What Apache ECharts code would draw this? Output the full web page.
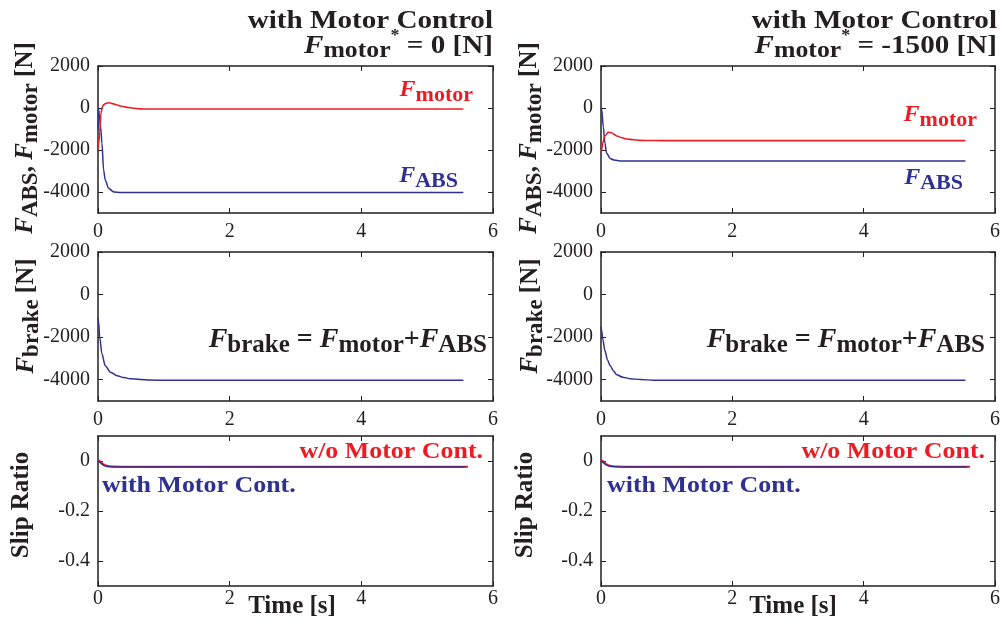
<!DOCTYPE html>
<html>
<head>
<meta charset="utf-8">
<script src="https://cdn.jsdelivr.net/npm/echarts@6/dist/echarts.min.js"></script>
<style>
  html, body { margin: 0; padding: 0; background: #fff; }
  #main { width: 1003px; height: 624px; }
</style>
</head>
<body>
<div id="main"></div>
<script>
// ---- data ----
// top row, F_motor* = 0
const tMotorL = [0, 0.01, 0.025, 0.045, 0.065, 0.085, 0.12, 0.17, 0.22, 0.29, 0.36, 0.44, 0.54, 0.64, 0.8, 1, 2, 3, 4, 5, 5.55];
const motorL  = [-2000, -1700, -1130, -250, 60, 150, 220, 250, 210, 140, 80, 30, -10, -40, -50, -50, -50, -50, -50, -50, -50];
const tAbsL   = [0, 0.008, 0.02, 0.04, 0.06, 0.085, 0.11, 0.16, 0.24, 0.35, 0.5, 1, 2, 3, 4, 5, 5.55];
const absL    = [-1000, -50, -300, -900, -1680, -2950, -3430, -3820, -4000, -4020, -4020, -4020, -4020, -4020, -4020, -4020, -4020];
// top row, F_motor* = -1500
const tMotorR = [0, 0.01, 0.025, 0.06, 0.11, 0.16, 0.24, 0.32, 0.39, 0.5, 0.59, 0.8, 1, 2, 3, 4, 5, 5.55];
const motorR  = [-2050, -2000, -1680, -1330, -1160, -1175, -1330, -1420, -1475, -1515, -1540, -1550, -1555, -1555, -1555, -1555, -1555, -1555];
const tAbsR   = [0, 0.01, 0.035, 0.06, 0.086, 0.14, 0.2, 0.29, 0.4, 1, 2, 3, 4, 5, 5.55];
const absR    = [0, -50, -890, -1680, -2160, -2400, -2480, -2520, -2520, -2520, -2520, -2520, -2520, -2520, -2520];
// middle row, F_brake
const tBrakeL = [0, 0.01, 0.025, 0.06, 0.11, 0.19, 0.29, 0.39, 0.49, 0.64, 0.79, 1, 2, 3, 4, 5, 5.55];
const brakeL  = [-1100, -1300, -2000, -2790, -3340, -3650, -3810, -3900, -3950, -3990, -4010, -4030, -4030, -4030, -4030, -4030, -4030];
const tBrakeR = [0, 0.01, 0.03, 0.06, 0.1, 0.14, 0.19, 0.24, 0.33, 0.44, 0.6, 0.8, 1, 2, 3, 4, 5, 5.55];
const brakeR  = [-1500, -1700, -2150, -2640, -3080, -3340, -3590, -3770, -3880, -3950, -3995, -4020, -4030, -4030, -4030, -4030, -4030, -4030];
// bottom row, slip ratio
const tSlipWo  = [0, 0.02, 0.05, 0.08, 0.12, 0.18, 0.25, 0.4, 1, 2, 3, 4, 5, 5.62];
const slipWo   = [0.003, 0.001, -0.006, -0.013, -0.018, -0.021, -0.022, -0.023, -0.023, -0.023, -0.023, -0.023, -0.023, -0.023];
const tSlipWithL = [0, 0.03, 0.06, 0.09, 0.12, 0.16, 0.22, 0.3, 0.5, 1, 2, 3, 4, 5, 5.58];
const slipWithL  = [0, -0.006, -0.013, -0.018, -0.021, -0.023, -0.024, -0.024, -0.024, -0.024, -0.024, -0.024, -0.024, -0.024, -0.024];
const tSlipWithR = [0, 0.03, 0.06, 0.09, 0.12, 0.16, 0.22, 0.3, 0.5, 1, 2, 3, 4, 5, 5.58];
const slipWithR  = [0, -0.006, -0.012, -0.017, -0.02, -0.022, -0.023, -0.024, -0.024, -0.024, -0.024, -0.024, -0.024, -0.024, -0.024];

const forceTicks = [-4000, -2000, 0, 2000];
const slipTicks = [-0.4, -0.2, 0];

// ---- styling ----
const FONT = "'Liberation Serif', 'Times New Roman', serif";
const INK = '#231f20';
const RED = '#ed1c24';
const BLUE = '#2e3192';

const colLeft = [98, 601];
const colWidth = [395, 396];
const rowTop = [66, 252, 436];
const rowHeight = [147, 149, 150];
const labelMargin = [9, 9, 3];

var chartDom = document.getElementById('main');
var myChart = echarts.init(chartDom);

function zip(ts, vs) {
  return ts.map(function (t, i) { return [t, vs[i]]; });
}
function plain(v) { return String(v); }

let grids = [], xAxes = [], yAxes = [];
for (let r = 0; r < 3; r++) {
  for (let c = 0; c < 2; c++) {
    const g = grids.length;
    grids.push({ left: colLeft[c], top: rowTop[r], width: colWidth[c], height: rowHeight[r] });
    const line = { show: true, onZero: false, lineStyle: { color: INK, width: 1.5 } };
    const tick = { show: true, inside: true, length: 5, lineStyle: { color: INK, width: 1 } };
    const xBase = { gridIndex: g, type: 'value', min: 0, max: 6, interval: 2, axisLine: line, splitLine: { show: false } };
    xAxes.push(Object.assign({}, xBase, {
      position: 'bottom',
      axisTick: tick,
      axisLabel: { margin: labelMargin[r], fontFamily: FONT, fontSize: 20, color: INK, formatter: plain }
    }));
    xAxes.push(Object.assign({}, xBase, { position: 'top', axisTick: tick, axisLabel: { show: false } }));

    const isSlip = r === 2;
    const yTicks = isSlip ? slipTicks : forceTicks;
    const yBase = {
      gridIndex: g, type: 'value',
      min: isSlip ? -0.5 : -5000, max: isSlip ? 0.1 : 2000,
      axisLine: line, splitLine: { show: false }
    };
    yAxes.push(Object.assign({}, yBase, {
      position: 'left',
      axisTick: Object.assign({}, tick, { customValues: yTicks }),
      axisLabel: { customValues: yTicks, margin: 8, fontFamily: FONT, fontSize: 20, color: INK, formatter: plain }
    }));
    yAxes.push(Object.assign({}, yBase, {
      position: 'right',
      axisTick: Object.assign({}, tick, { customValues: yTicks }),
      axisLabel: { show: false }
    }));
  }
}

function lineSeries(g, data, color, width) {
  return {
    type: 'line', xAxisIndex: g * 2, yAxisIndex: g * 2, data: data,
    showSymbol: false, smooth: 0.3, smoothMonotone: 'x',
    lineStyle: { color: color, width: width }, silent: true
  };
}

// rich text: bold-italic F, subscripts pushed down with top padding, superscript pushed up
function rich(size, color, drop, subScale) {
  const base = { fontFamily: FONT, fontWeight: 'bold', color: color };
  return {
    i: Object.assign({}, base, { fontStyle: 'italic', fontSize: size }),
    s: Object.assign({}, base, { fontSize: Math.round(size * subScale), padding: [2 * drop, 0, 0, 0] }),
    n: Object.assign({}, base, { fontSize: size }),
    p: Object.assign({}, base, { fontSize: Math.round(size * 0.6), padding: [0, 0, Math.round(size * 0.8), 0] })
  };
}
function txt(text, x, y, size, color, align, opts) {
  opts = opts || {};
  return {
    type: 'text', x: x, y: y, z: 100, silent: true,
    scaleX: opts.scaleX || 1, rotation: opts.rotation || 0,
    style: {
      text: text, rich: rich(size, color, opts.drop || 5, opts.subScale || 0.9),
      align: align, verticalAlign: 'middle', fill: color
    }
  };
}

const graphics = [];
const titleVal = ['0', '-1500'];
const colRight = [493, 997];
for (let c = 0; c < 2; c++) {
  const dx = c === 0 ? 0 : 504;
  graphics.push(txt('{n|with Motor Control}', colRight[c], 21, 26, INK, 'right', { scaleX: 1.12 }));
  graphics.push(txt('{i|F}{s|motor}{p|*}{n| = ' + titleVal[c] + ' [N]}', colRight[c], 46, 26, INK, 'right', { scaleX: 1.12 }));
  // y-axis titles
  const rot = { rotation: Math.PI / 2 };
  graphics.push(txt('{i|F}{s|ABS}{n|, }{i|F}{s|motor}{n| [N]}', 26 + dx, 138, 25, INK, 'center', rot));
  graphics.push(txt('{i|F}{s|brake}{n| [N]}', 27 + dx, 316, 25, INK, 'center', rot));
  graphics.push(txt('{n|Slip Ratio}', 22 + dx, 505, 25, INK, 'center', rot));
  graphics.push(txt('{n|Time [s]}', [292, 793][c], 607, 25, INK, 'center'));
  // formula in middle row
  graphics.push(txt('{i|F}{s|brake}{n| = }{i|F}{s|motor}{n|+}{i|F}{s|ABS}', [487, 985][c], 340, 28, INK, 'right', { drop: 6 }));
  // slip annotations
  graphics.push(txt('{n|w/o Motor Cont.}', [483, 985][c], 452, 24, RED, 'right', { scaleX: 1.08 }));
  graphics.push(txt('{n|with Motor Cont.}', [102, 607][c], 486, 24, BLUE, 'left', { scaleX: 1.08 }));
}
// top row curve labels
graphics.push(txt('{i|F}{s|motor}', 473, 90, 24, RED, 'right'));
graphics.push(txt('{i|F}{s|ABS}', 458, 176, 24, BLUE, 'right'));
graphics.push(txt('{i|F}{s|motor}', 977, 115, 24, RED, 'right'));
graphics.push(txt('{i|F}{s|ABS}', 963, 178, 24, BLUE, 'right'));

var option = {
  animation: false,
  backgroundColor: '#fff',
  grid: grids,
  xAxis: xAxes,
  yAxis: yAxes,
  series: [
    lineSeries(0, zip(tAbsL, absL), BLUE, 1.5),
    lineSeries(0, zip(tMotorL, motorL), RED, 1.6),
    lineSeries(1, zip(tAbsR, absR), BLUE, 1.5),
    lineSeries(1, zip(tMotorR, motorR), RED, 1.6),
    lineSeries(2, zip(tBrakeL, brakeL), BLUE, 1.5),
    lineSeries(3, zip(tBrakeR, brakeR), BLUE, 1.5),
    lineSeries(4, zip(tSlipWo, slipWo), RED, 2),
    lineSeries(4, zip(tSlipWithL, slipWithL), BLUE, 1.5),
    lineSeries(5, zip(tSlipWo, slipWo), RED, 2),
    lineSeries(5, zip(tSlipWithR, slipWithR), BLUE, 1.5)
  ],
  graphic: graphics
};

option && myChart.setOption(option);
</script>
</body>
</html>
